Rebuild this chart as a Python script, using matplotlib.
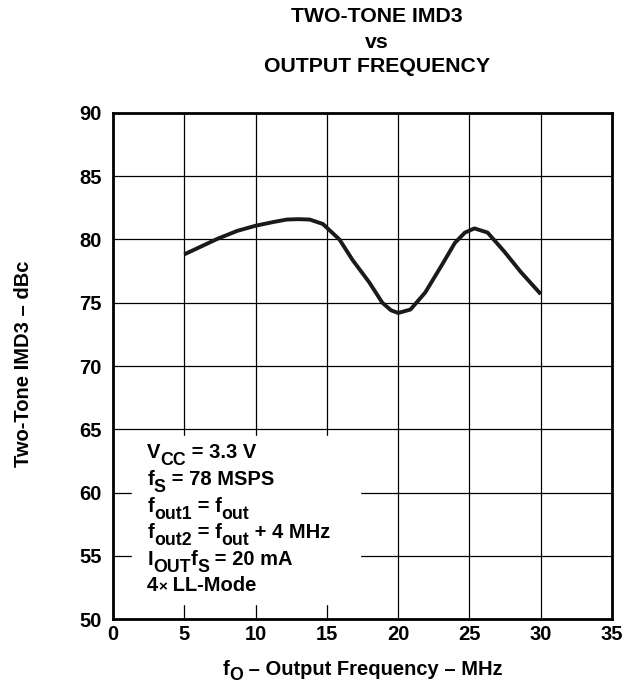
import numpy as np
import matplotlib
matplotlib.use("Agg")
import matplotlib.pyplot as plt

plt.rcParams['font.family'] = ['Liberation Sans', 'DejaVu Sans']
plt.rcParams['font.weight'] = 'bold'

# curve
freq = [5.0, 5.97, 7.35, 8.73, 10.0, 11.27, 12.19, 13.0, 13.8, 14.72, 15.88, 16.8,
        17.96, 18.89, 19.5, 20.0, 20.86, 21.9, 23.06, 23.98, 24.68, 25.35, 26.27,
        27.43, 28.59, 30.0]
imd3 = [78.82, 79.33, 80.06, 80.68, 81.08, 81.38, 81.57, 81.6, 81.57, 81.22, 80.0, 78.38,
        76.63, 75.0, 74.4, 74.19, 74.46, 75.81, 77.97, 79.73, 80.54, 80.87, 80.54,
        79.06, 77.44, 75.68]

xticks = [0, 5, 10, 15, 20, 25, 30, 35]
yticks = [50, 55, 60, 65, 70, 75, 80, 85, 90]

# conditions text, pieces of (text, is_subscript)
notes = [[("V", 0), ("CC", 1), (" = 3.3 V", 0)],
         [("f", 0), ("S", 1), (" = 78 MSPS", 0)],
         [("f", 0), ("out1", 1), (" = f", 0), ("out", 1)],
         [("f", 0), ("out2", 1), (" = f", 0), ("out", 1), (" + 4 MHz", 0)],
         [("I", 0), ("OUT", 1), ("f", 0), ("S", 1), (" = 20 mA", 0)],
         [("4", 0), ("×", 2), (" LL-Mode", 0)]]

title_lines = ["TWO-TONE IMD3", "vs", "OUTPUT FREQUENCY"]

FS = 14.5

fig = plt.figure(figsize=(6.31, 6.88), dpi=100)
ax = fig.add_axes([0.179, 0.100, 0.791, 0.736])

ax.plot(freq, imd3, c='#1a1a1a', lw=2.8, solid_capstyle='butt',
        solid_joinstyle='round', zorder=4)

ax.set_xlim(0, 35)
ax.set_ylim(50, 90)
ax.set_xticks(xticks)
ax.set_yticks(yticks)
ax.grid(True, color='black', lw=0.9)
ax.tick_params(length=0, labelsize=FS)
ax.tick_params(axis='x', pad=4)
ax.tick_params(axis='y', pad=8)
for s in ax.spines.values():
    s.set_linewidth(2.0)


def rich(x, y, pieces):
    prev = None
    for txt, sub in pieces:
        size = FS * 0.88 if sub == 1 else (FS * 0.75 if sub == 2 else FS)
        dy = -5 if sub == 1 else 0
        if prev is None:
            prev = ax.annotate(txt, xy=(x, y), xycoords='data', xytext=(0, dy),
                               textcoords='offset points', fontsize=size,
                               fontweight='bold', va='baseline', ha='left', zorder=5)
        else:
            prev = ax.annotate(txt, xy=(1, y), xycoords=(prev, 'data'), xytext=(0, dy),
                               textcoords='offset points', fontsize=size,
                               fontweight='bold', va='baseline', ha='left', zorder=5)
    return prev


# white box behind the conditions text
ax.fill_between([1.33, 17.3], 51.2, 64.5, color='white', zorder=3)
for i, line in enumerate(notes):
    rich(2.4, 62.7 - i * 2.1, line)

ax.set_ylabel("Two-Tone IMD3 – dBc", fontsize=FS, fontweight='bold')
ax.yaxis.set_label_coords(-0.16, 0.505)

# x label with the subscript O, built from pieces
fig.canvas.draw()
r = fig.canvas.get_renderer()
parts = [("f", 0), ("O", 1), (" – Output Frequency – MHz", 0)]
widths = []
for txt, sub in parts:
    t = fig.text(0, 0, txt, fontsize=FS * 0.88 if sub else FS, fontweight='bold')
    widths.append(t.get_window_extent(r).width)
    t.remove()
xpix = 0.5 * (113 + 612) - sum(widths) / 2
for (txt, sub), w in zip(parts, widths):
    fig.text(xpix / 631, (688 - 675) / 688 - (5 / 688 if sub else 0), txt,
             fontsize=FS * 0.88 if sub else FS, fontweight='bold',
             ha='left', va='baseline')
    xpix += w

for i, t in enumerate(title_lines):
    fig.text(377 / 631, 1 - (17 + 25 * i) / 688, t, ha='center', va='center',
             fontsize=15.3, fontweight='bold')

plt.savefig("out.png", dpi=100)
plt.close()
